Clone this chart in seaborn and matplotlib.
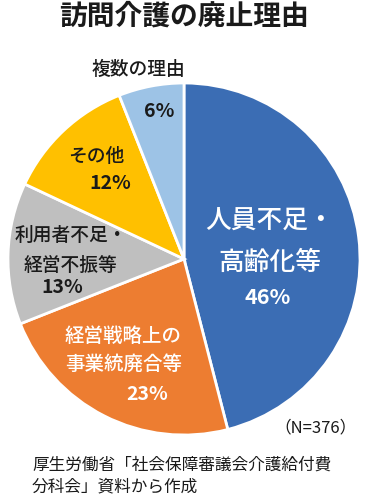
import numpy as np
import matplotlib
matplotlib.use("Agg")
import matplotlib.pyplot as plt
import seaborn as sns

sns.set_theme(style="white")
plt.rcParams["font.family"] = ["Noto Sans CJK JP", "DejaVu Sans"]

# data, clockwise from 12 o'clock
reasons = ["人員不足・\n高齢化等", "経営戦略上の\n事業統廃合等", "利用者不足・\n経営不振等", "その他", "複数の理由"]
shares = [46, 23, 13, 12, 6]
colors = ["#3b6db4", "#ed7d31", "#bfbfbf", "#ffc000", "#9dc3e6"]

title = "訪問介護の廃止理由"
n_note = "（N=376）"
source = "厚生労働省「社会保障審議会介護給付費\n分科会」資料から作成"

# label styling per slice: radius / angle nudge of the % text,
# offset (points) of the name block above it
pct_r = [0.52, 0.80, 0.71, 0.60, 0.85]
pct_dang = [-31.8, 11.8, 15.2, 1.0, -1.2]
pct_size = [15.5, 14, 14, 14, 14]
name_size = [18.5, 14, 13.5, 13.5, 13.5]
name_off = [(2, 40), (-17, 32), (6, 27), (-10, 19), (-15, 30)]
name_spacing = [1.66, 1.54, 1.7, 1.5, 1.5]
text_color = ["white", "white", "#1a1a1a", "#1a1a1a", "#1a1a1a"]

fig = plt.figure(figsize=(3.67, 5.0), dpi=100)
ax = fig.add_axes([8 / 367, 65 / 500, 352 / 367, 352 / 500])

wedges, _ = ax.pie(
    shares,
    colors=colors,
    startangle=90,
    counterclock=False,
    wedgeprops={"edgecolor": "white", "linewidth": 2},
)
ax.set_xlim(-1, 1)
ax.set_ylim(-1, 1)
ax.set_aspect("equal")
ax.axis("off")

for i, w in enumerate(wedges):
    ang = np.deg2rad((w.theta1 + w.theta2) / 2 + pct_dang[i])
    x = pct_r[i] * np.cos(ang)
    y = pct_r[i] * np.sin(ang)
    ax.text(x, y, f"{shares[i]}%", ha="center", va="center",
            fontsize=pct_size[i], color=text_color[i], fontweight="bold")
    ax.annotate(reasons[i], (x, y), xytext=name_off[i], textcoords="offset points",
                ha="center", va="center", fontsize=name_size[i],
                color=text_color[i], fontweight="medium",
                linespacing=name_spacing[i], multialignment="center",
                annotation_clip=False)

fig.text(0.5, 1 - 17 / 500, title, ha="center", va="center",
         fontsize=20, fontweight="bold", color="#1a1a1a")
fig.text(315 / 367, 1 - 428 / 500, n_note, ha="center", va="center",
         fontsize=12, color="#1a1a1a")
fig.text(32 / 367, 1 - 476 / 500, source, ha="left", va="center",
         fontsize=12, color="#1a1a1a", linespacing=1.3)

fig.savefig("out.png", dpi=100, facecolor="white")
plt.close(fig)
